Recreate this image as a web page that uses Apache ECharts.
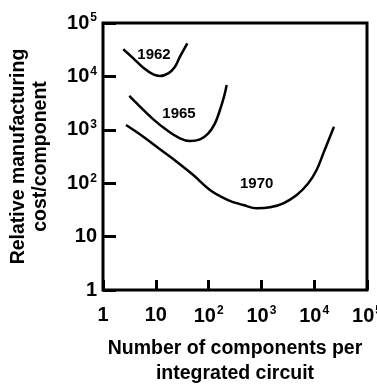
<!DOCTYPE html>
<html>
<head>
<meta charset="utf-8">
<style>
  html, body { margin: 0; padding: 0; background: #fff; }
  #chart { width: 377px; height: 389px; }
</style>
<script src="https://cdn.jsdelivr.net/npm/echarts@6/dist/echarts.min.js"></script>
</head>
<body>
<div id="chart"></div>
<script>
// 1962 curve: components per IC vs relative cost/component
const curve1962X = [2.42, 3.75, 5.8, 8.97, 12.0, 17.2, 23.1, 28.7, 39.5];
const curve1962Y = [32200, 21800, 14500, 10900, 10200, 11400, 15200, 23400, 41700];

// 1965 curve
const curve1965X = [3.15, 5.02, 8.97, 16.1, 28.7, 44.4, 68.7, 98.7, 132, 164, 196, 220];
const curve1965Y = [4300, 2710, 1570, 990, 693, 617, 664, 860, 1320, 2350, 4170, 6900];

// 1970 curve
const curve1970X = [2.73, 5.8, 12.0, 24.9, 51.3, 106, 233, 454, 815, 1460, 2600, 4670, 7730, 11100, 14900, 19900, 23700];
const curve1970Y = [1230, 743, 431, 253, 142, 74.6, 48.4, 39.1, 33.9, 35.4, 42.1, 60.1, 99.6, 177, 363, 743, 1140];

// curve labels: text and position in data units
const curveNames = ['1962', '1965', '1970'];
const labelX = [9.25, 27.5, 815];
const labelY = [25200, 1980, 96.6];

const font = '"Liberation Sans", Arial, sans-serif';

const zip = (xs, ys) => xs.map((x, i) => [x, ys[i]]);

// 刻度标签：1, 10, 10^n
const powLabel = (v) => {
  const n = Math.round(Math.log10(v));
  if (n === 0) return '{b|1}';
  if (n === 1) return '{b|10}';
  return '{b|10}{s|' + n + '}';
};

const rich = {
  b: { fontFamily: font, fontWeight: 'bold', fontSize: 20, color: '#000' },
  s: { fontFamily: font, fontWeight: 'bold', fontSize: 12, color: '#000', padding: [0, 0, 10, 1] }
};

const makeSeries = (name, xs, ys, i) => ({
  name: name,
  type: 'line',
  data: zip(xs, ys),
  smooth: 0.4,
  symbol: 'none',
  lineStyle: { color: '#000', width: 2.5 },
  markPoint: {
    symbol: 'circle',
    symbolSize: 0,
    silent: true,
    label: {
      show: true,
      position: 'inside',
      formatter: name,
      fontFamily: font,
      fontWeight: 'bold',
      fontSize: 15,
      color: '#000'
    },
    data: [{ coord: [labelX[i], labelY[i]] }]
  }
});

const chart = echarts.init(document.getElementById('chart'));

chart.setOption({
  animation: false,
  grid: {
    left: 103,
    right: 10,
    top: 23,
    bottom: 99,
    outerBoundsMode: 'none',
    containLabel: false,
    show: true,
    borderColor: '#000',
    borderWidth: 3,
    backgroundColor: 'transparent'
  },
  xAxis: {
    type: 'log',
    logBase: 10,
    min: 1,
    max: 100000,
    name: 'Number of components per\nintegrated circuit',
    nameLocation: 'middle',
    nameGap: 46,
    nameTextStyle: { fontFamily: font, fontWeight: 'bold', fontSize: 19.5, color: '#000', lineHeight: 25, verticalAlign: 'top' },
    axisLine: { show: false },
    axisTick: {
      show: true,
      inside: true,
      length: 10,
      lineStyle: { color: '#000', width: 3 }
    },
    minorTick: { show: false },
    splitLine: { show: false },
    axisLabel: {
      margin: 15,
      formatter: powLabel,
      rich: rich
    }
  },
  yAxis: {
    type: 'log',
    logBase: 10,
    min: 1,
    max: 100000,
    name: 'Relative manufacturing\ncost/component',
    nameLocation: 'middle',
    nameGap: 51,
    nameRotate: 90,
    nameTextStyle: { fontFamily: font, fontWeight: 'bold', fontSize: 19.5, color: '#000', lineHeight: 22 },
    axisLine: { show: false },
    axisTick: {
      show: true,
      inside: true,
      length: 13,
      lineStyle: { color: '#000', width: 3 }
    },
    splitLine: { show: false },
    axisLabel: {
      margin: 6,
      formatter: powLabel,
      rich: rich
    }
  },
  series: [
    makeSeries(curveNames[0], curve1962X, curve1962Y, 0),
    makeSeries(curveNames[1], curve1965X, curve1965Y, 1),
    makeSeries(curveNames[2], curve1970X, curve1970Y, 2)
  ]
});
</script>
</body>
</html>
